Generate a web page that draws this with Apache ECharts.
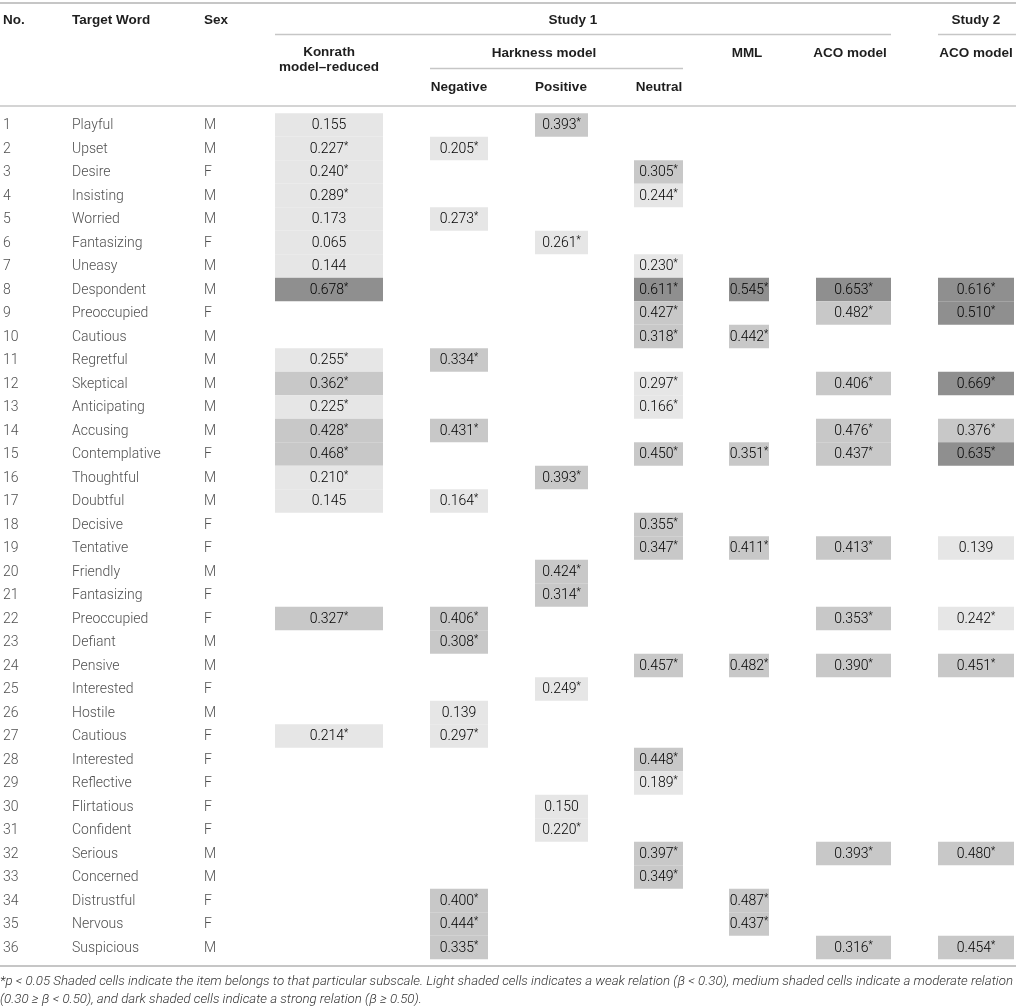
<!DOCTYPE html>
<html>
<head>
<meta charset="utf-8">
<script src="https://cdn.jsdelivr.net/npm/echarts@6/dist/echarts.min.js"></script>
<style>
html,body{margin:0;padding:0;background:#fff;}
#main{width:1016px;height:1008px;}
</style>
</head>
<body>
<div id="main"></div>
<script>
// ---------- data ----------
const rowNumbers = ['1','2','3','4','5','6','7','8','9','10','11','12','13','14','15','16','17','18','19','20','21','22','23','24','25','26','27','28','29','30','31','32','33','34','35','36'];
const targetWords = ['Playful','Upset','Desire','Insisting','Worried','Fantasizing','Uneasy','Despondent','Preoccupied','Cautious','Regretful','Skeptical','Anticipating','Accusing','Contemplative','Thoughtful','Doubtful','Decisive','Tentative','Friendly','Fantasizing','Preoccupied','Defiant','Pensive','Interested','Hostile','Cautious','Interested','Reflective','Flirtatious','Confident','Serious','Concerned','Distrustful','Nervous','Suspicious'];
const sexes = ['M','M','F','M','M','F','M','M','F','M','M','M','M','M','F','M','M','F','F','M','F','F','M','M','F','M','F','F','F','F','F','M','M','F','F','M'];

// [row number, value] ; '*' marks p < 0.05
const konrath  = [[1,'0.155'],[2,'0.227*'],[3,'0.240*'],[4,'0.289*'],[5,'0.173'],[6,'0.065'],[7,'0.144'],[8,'0.678*'],[11,'0.255*'],[12,'0.362*'],[13,'0.225*'],[14,'0.428*'],[15,'0.468*'],[16,'0.210*'],[17,'0.145'],[22,'0.327*'],[27,'0.214*']];
const negative = [[2,'0.205*'],[5,'0.273*'],[11,'0.334*'],[14,'0.431*'],[17,'0.164*'],[22,'0.406*'],[23,'0.308*'],[26,'0.139'],[27,'0.297*'],[34,'0.400*'],[35,'0.444*'],[36,'0.335*']];
const positive = [[1,'0.393*'],[6,'0.261*'],[16,'0.393*'],[20,'0.424*'],[21,'0.314*'],[25,'0.249*'],[30,'0.150'],[31,'0.220*']];
const neutral  = [[3,'0.305*'],[4,'0.244*'],[7,'0.230*'],[8,'0.611*'],[9,'0.427*'],[10,'0.318*'],[12,'0.297*'],[13,'0.166*'],[15,'0.450*'],[18,'0.355*'],[19,'0.347*'],[24,'0.457*'],[28,'0.448*'],[29,'0.189*'],[32,'0.397*'],[33,'0.349*']];
const mml      = [[8,'0.545*'],[10,'0.442*'],[15,'0.351*'],[19,'0.411*'],[24,'0.482*'],[34,'0.487*'],[35,'0.437*']];
const aco1     = [[8,'0.653*'],[9,'0.482*'],[12,'0.406*'],[14,'0.476*'],[15,'0.437*'],[19,'0.413*'],[22,'0.353*'],[24,'0.390*'],[32,'0.393*'],[36,'0.316*']];
const aco2     = [[8,'0.616*'],[9,'0.510*'],[12,'0.669*'],[14,'0.376*'],[15,'0.635*'],[19,'0.139'],[22,'0.242*'],[24,'0.451*'],[32,'0.480*'],[36,'0.454*']];

const footLine1 = '*p < 0.05 Shaded cells indicate the item belongs to that particular subscale. Light shaded cells indicates a weak relation (\u03B2 < 0.30), medium shaded cells indicate a moderate relation';
const footLine2 = '(0.30 \u2265 \u03B2 < 0.50), and dark shaded cells indicate a strong relation (\u03B2 \u2265 0.50).';

// ---------- layout ----------
const BODY_FONT = 'Roboto, "Liberation Sans", sans-serif';
const HEAD_FONT = '"Liberation Sans", Arial, sans-serif';
const BODY_COLOR = '#505050';
const textColX = [3, 72, 204];
const cellColX = [[275,383],[430,488],[535,588],[634,683],[729,769],[816,891],[938,1014]];
const valueColumns = [konrath, negative, positive, neutral, mml, aco1, aco2];
const LIGHT = '#e6e6e6', MEDIUM = '#c8c8c8', DARK = '#8f8f8f';
function shade(v){ const n = parseFloat(v); return n < 0.30 ? LIGHT : (n < 0.50 ? MEDIUM : DARK); }

const textItems = [];
rowNumbers.forEach((n, i) => {
  textItems.push({value:[0, i], txt:n});
  textItems.push({value:[1, i], txt:targetWords[i]});
  textItems.push({value:[2, i], txt:sexes[i]});
});
const cellItems = [];
valueColumns.forEach((col, c) => col.forEach(([r, v]) => cellItems.push({value:[c, r - 1], txt:v})));

const richNum = {
  n:{fontFamily:BODY_FONT, fontWeight:300, fontSize:14, color:BODY_COLOR, lineHeight:16},
  a:{fontFamily:BODY_FONT, fontWeight:300, fontSize:10, color:BODY_COLOR, lineHeight:10, verticalAlign:'top'}
};
function numText(v){ return v.endsWith('*') ? '{n|' + v.slice(0,-1) + '}{a|*}' : '{n|' + v + '}'; }

const chart = echarts.init(document.getElementById('main'), null, {renderer:'canvas'});

// footnote horizontal fit
const ctx = document.createElement('canvas').getContext('2d');
ctx.font = 'italic 300 13px Roboto';
const footScale = 1013 / ctx.measureText(footLine1).width;

function hText(t, x, y, align){
  return {type:'text', x:x, y:y, silent:true, style:{text:t, x:0, y:0, align:align||'center', verticalAlign:'middle',
    font:'bold 13.5px ' + HEAD_FONT, fill:'#1e1e1e', lineHeight:14.5}};
}
function hLine(x1, x2, y, w){
  return {type:'line', silent:true, shape:{x1:x1, y1:y, x2:x2, y2:y}, style:{stroke:'#c6c6c6', lineWidth:w||1.5}};
}

const graphics = [
  hLine(0, 1016, 3, 2),
  hText('No.', 3, 20, 'left'),
  hText('Target Word', 72, 20, 'left'),
  hText('Sex', 204, 20, 'left'),
  hText('Study 1', 573, 20),
  hText('Study 2', 976, 20),
  hLine(275, 891, 34.5),
  hLine(938, 1016, 34.5),
  hText('Konrath\nmodel\u2013reduced', 329, 60),
  hText('Harkness model', 544, 53),
  hText('MML', 747, 53),
  hText('ACO model', 850, 53),
  hText('ACO model', 976, 53),
  hLine(430, 683, 68.5),
  hText('Negative', 459, 87),
  hText('Positive', 561, 87),
  hText('Neutral', 659, 87),
  hLine(0, 1016, 106, 1.5),
  hLine(0, 1016, 966, 2),
  {type:'text', x:0, y:982, scaleX:footScale, silent:true, style:{text:footLine1, x:0, y:0, verticalAlign:'middle', font:'italic 300 13px Roboto', fill:'#333'}},
  {type:'text', x:0, y:1000, scaleX:footScale, silent:true, style:{text:footLine2, x:0, y:0, verticalAlign:'middle', font:'italic 300 13px Roboto', fill:'#333'}}
];

chart.setOption({
  animation:false,
  grid:{left:0, right:0, top:113.3, bottom:48.7, containLabel:false},
  xAxis:{type:'value', min:0, max:1016, show:false},
  yAxis:{type:'category', data:rowNumbers, inverse:true, show:false},
  graphic:graphics,
  series:[
    {
      type:'custom', coordinateSystem:'cartesian2d', silent:true,
      data:cellItems,
      renderItem:function(params, api){
        const c = api.value(0), r = api.value(1);
        const it = cellItems[params.dataIndex];
        const p0 = api.coord([cellColX[c][0], r]);
        const p1 = api.coord([cellColX[c][1], r]);
        const h = api.size([0, 1])[1];
        return {type:'group', children:[
          {type:'rect', shape:{x:p0[0], y:p0[1] - h/2, width:p1[0]-p0[0], height:h}, style:{fill:shade(it.txt)}},
          {type:'text', x:(p0[0]+p1[0])/2, y:p0[1] + 0.5, style:{text:numText(it.txt), rich:richNum, align:'center', verticalAlign:'middle'}}
        ]};
      }
    },
    {
      type:'custom', coordinateSystem:'cartesian2d', silent:true,
      data:textItems,
      renderItem:function(params, api){
        const c = api.value(0), r = api.value(1);
        const it = textItems[params.dataIndex];
        const p = api.coord([textColX[c], r]);
        return {type:'text', x:p[0], y:p[1] + 0.5, style:{text:it.txt, align:'left', verticalAlign:'middle',
          font:'300 14px ' + BODY_FONT, fill:BODY_COLOR}};
      }
    }
  ]
});
</script>
</body>
</html>
